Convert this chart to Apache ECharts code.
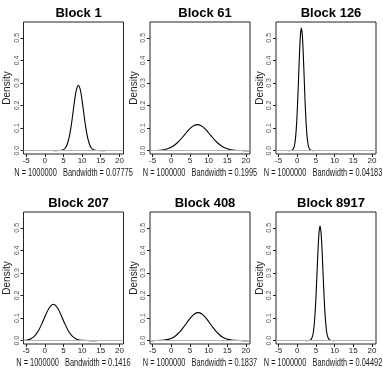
<!DOCTYPE html>
<html>
<head>
<meta charset="utf-8">
<script src="https://cdn.jsdelivr.net/npm/echarts@6/dist/echarts.min.js"></script>
<style>
  html, body { margin: 0; padding: 0; background: #fff; }
  #chart { width: 383px; height: 374px; }
</style>
</head>
<body>
<div id="chart"></div>
<script>
// density curves, one per block
const blockNames = ['Block 1', 'Block 61', 'Block 126', 'Block 207', 'Block 408', 'Block 8917'];
const bandwidths = ['0.07775', '0.1995', '0.04183', '0.1416', '0.1837', '0.04492'];
const sampleSize = '1000000';

const xTicks = [-5, 0, 5, 10, 15, 20];
const yTicks = [0, 0.1, 0.2, 0.3, 0.4, 0.5];

const block1X = [2.3, 4, 5, 5.5, 6, 6.5, 7, 7.5, 8, 8.5, 9, 9.5, 10, 10.5, 11, 11.5, 12, 12.5, 13, 14, 16.1];
const block1Y = [0, 0.0004, 0.0042, 0.0114, 0.027, 0.056, 0.101, 0.160, 0.223, 0.271, 0.290, 0.271, 0.223, 0.160, 0.101, 0.056, 0.027, 0.0114, 0.0042, 0.0004, 0];

const block61X = [-5.7, -5, -4, -3, -2, -1, 0, 1, 2, 3, 4, 5, 6, 7, 8, 9, 10, 11, 12, 13, 14, 15, 16, 17, 18, 19, 20, 21.1];
const block61Y = [0.0002, 0.0003, 0.0008, 0.0018, 0.0040, 0.0081, 0.0151, 0.0258, 0.0408, 0.0592, 0.0792, 0.0974, 0.110, 0.115,
  0.110, 0.0974, 0.0792, 0.0592, 0.0408, 0.0258, 0.0151, 0.0081, 0.0040, 0.0018, 0.0008, 0.0003, 0.0001, 0];

const block126X = [-2.4, -1.4, -0.9, -0.65, -0.4, -0.15, 0.1, 0.35, 0.6, 0.85, 1.1, 1.35, 1.6, 1.85, 2.1, 2.35, 2.6, 2.85, 3.1, 3.6, 4.5];
const block126Y = [0, 0.0017, 0.0134, 0.0319, 0.0676, 0.128, 0.215, 0.323, 0.431, 0.513, 0.543, 0.513, 0.431, 0.323, 0.215, 0.128, 0.0676, 0.0319, 0.0134, 0.0017, 0];

const block207X = [-5.5, -4.7, -3.7, -2.7, -1.7, -0.7, 0.3, 1.3, 2.3, 3.3, 4.3, 5.3, 6.3, 7.3, 8.3, 9.3, 10.3, 11.3, 14];
const block207Y = [0.001, 0.0030, 0.0086, 0.0211, 0.0438, 0.0774, 0.116, 0.148, 0.161, 0.148, 0.116, 0.0774, 0.0438, 0.0211, 0.0086, 0.0030, 0.0009, 0.0002, 0];

const block408X = [-5.7, -4.8, -3.8, -2.8, -1.8, -0.8, 0.2, 1.2, 2.2, 3.2, 4.2, 5.2, 6.2, 7.2, 8.2, 9.2, 10.2, 11.2, 12.2, 13.2, 14.2, 15.2, 16.2, 17.2, 18.2, 19.2, 21.1];
const block408Y = [0, 0.0001, 0.0004, 0.0010, 0.0025, 0.0056, 0.0116, 0.0218, 0.0371, 0.0573, 0.0803, 0.102, 0.118, 0.124,
  0.118, 0.102, 0.0803, 0.0573, 0.0371, 0.0218, 0.0116, 0.0056, 0.0025, 0.0010, 0.0004, 0.0001, 0];

const block8917X = [2.2, 3.1, 3.6, 4.1, 4.35, 4.6, 4.85, 5.1, 5.35, 5.6, 5.85, 6.1, 6.35, 6.6, 6.85, 7.1, 7.35, 7.6, 7.85, 8.1, 8.6, 9.1, 9.9];
const block8917Y = [0, 0.0003, 0.0032, 0.0198, 0.0424, 0.082, 0.143, 0.226, 0.322, 0.415, 0.483, 0.508, 0.483, 0.415, 0.322, 0.226, 0.143, 0.082, 0.0424, 0.0198, 0.0032, 0.0003, 0];

const curves = [
  [block1X, block1Y], [block61X, block61Y], [block126X, block126Y],
  [block207X, block207Y], [block408X, block408Y], [block8917X, block8917Y]
];

const colLeft = [23.5, 150, 276];
const rowTop = [22, 212];
const panelW = 100;
const panelH = 132;

const grids = [], xAxes = [], yAxes = [], series = [], titles = [], texts = [];

curves.forEach(([xs, ys], i) => {
  const col = i % 3, row = Math.floor(i / 3);
  const left = colLeft[col], top = rowTop[row];
  const cx = left + panelW / 2;

  grids.push({
    left: left, top: top, width: panelW, height: panelH,
    show: true, borderColor: '#222', borderWidth: 1, backgroundColor: 'transparent'
  });

  xAxes.push({
    type: 'value', gridIndex: i, min: -5.7, max: 21.1,
    axisLine: { show: false, onZero: false },
    splitLine: { show: false },
    axisTick: { show: true, inside: false, length: 3, customValues: xTicks, lineStyle: { color: '#222' } },
    axisLabel: {
      customValues: xTicks, margin: 3, fontSize: 8, color: '#222',
      fontFamily: 'Liberation Sans, sans-serif'
    }
  });

  yAxes.push({
    type: 'value', gridIndex: i, min: -0.015, max: 0.57,
    name: 'Density', nameLocation: 'middle', nameGap: 6, nameRotate: 90,
    nameTextStyle: { fontSize: 10, color: '#222', fontFamily: 'Liberation Sans, sans-serif' },
    axisLine: { show: false, onZero: false },
    splitLine: { show: false },
    axisTick: { show: true, inside: false, length: 3, customValues: yTicks, lineStyle: { color: '#222' } },
    axisLabel: {
      customValues: yTicks, rotate: 90, margin: 3, fontSize: 7, color: '#555',
      fontFamily: 'Liberation Sans, sans-serif',
      formatter: v => v.toFixed(1)
    }
  });

  series.push({
    type: 'line', xAxisIndex: i, yAxisIndex: i,
    data: xs.map((x, k) => [x, ys[k]]),
    showSymbol: false, smooth: 0.3,
    lineStyle: { color: '#000', width: 1.1 },
    markLine: {
      silent: true, symbol: 'none', label: { show: false },
      lineStyle: { color: '#b4b4b4', width: 1, type: 'solid' },
      data: [{ yAxis: 0 }]
    }
  });

  titles.push({
    text: blockNames[i], left: cx, top: row === 0 ? 2 : 192, textAlign: 'center',
    textStyle: { fontSize: 13, fontWeight: 'bold', color: '#000', fontFamily: 'Liberation Sans, Arial, sans-serif' }
  });

  // bottom caption, squeezed horizontally like the narrow font of the original
  texts.push({
    type: 'text', x: col === 2 ? cx - 3 : cx, y: row === 0 ? 173 : 363, scaleX: 0.74, silent: true,
    style: {
      text: 'N = ' + sampleSize + '   Bandwidth = ' + bandwidths[i],
      font: '10px "Liberation Sans", sans-serif', fill: '#222',
      align: 'center', verticalAlign: 'middle'
    }
  });
});

const chart = echarts.init(document.getElementById('chart'), null, { renderer: 'canvas' });
chart.setOption({
  animation: false,
  backgroundColor: '#fff',
  title: titles,
  grid: grids,
  xAxis: xAxes,
  yAxis: yAxes,
  series: series,
  graphic: texts
});
</script>
</body>
</html>
